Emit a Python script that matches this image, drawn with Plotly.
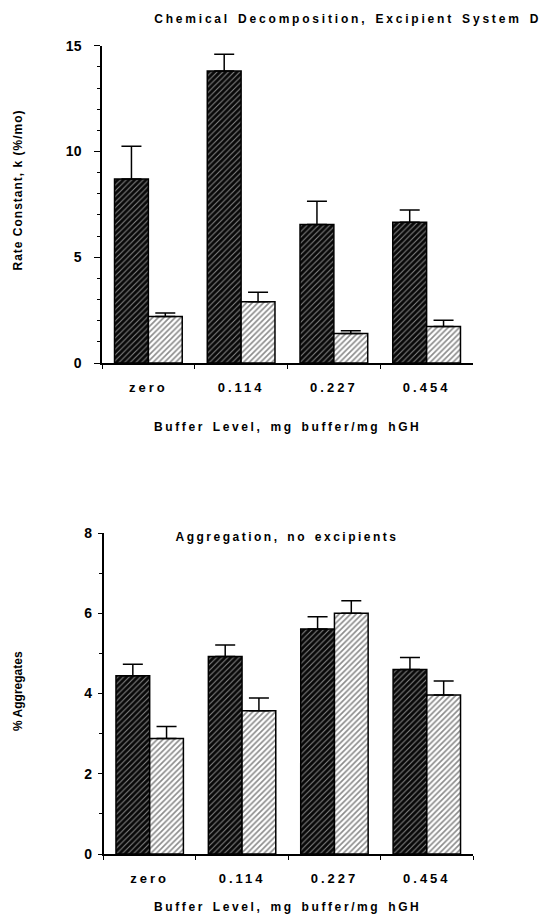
import plotly.graph_objects as go

categories = ["zero", "0.114", "0.227", "0.454"]

# Chemical decomposition rate constant k (%/mo)
rate_dark = [8.7, 13.8, 6.55, 6.65]
rate_dark_err = [1.55, 0.8, 1.1, 0.58]
rate_light = [2.2, 2.9, 1.4, 1.72]
rate_light_err = [0.16, 0.44, 0.12, 0.3]

# Aggregation, % aggregates
agg_dark = [4.44, 4.92, 5.61, 4.6]
agg_dark_err = [0.29, 0.29, 0.3, 0.3]
agg_light = [2.88, 3.57, 6.0, 3.96]
agg_light_err = [0.3, 0.32, 0.31, 0.35]

top_title = "Chemical Decomposition, Excipient System D"
bottom_title = "Aggregation, no excipients"
x_title = "Buffer Level, mg buffer/mg hGH"
top_ytitle = "Rate Constant, k (%/mo)"
bottom_ytitle = "% Aggregates"

FONT = "Liberation Sans, Arial, sans-serif"

W, H = 547, 922


def px(x):
    return x / W


def py(y):
    return 1 - y / H


dark_marker = dict(
    line=dict(color="black", width=1.5),
    pattern=dict(shape="/", bgcolor="#080808", fgcolor="white", size=4, solidity=0.27),
)
light_marker = dict(
    line=dict(color="black", width=1.5),
    pattern=dict(shape="/", bgcolor="white", fgcolor="#1a1a1a", size=4, solidity=0.42),
)


def err(vals):
    return dict(type="data", array=vals, arrayminus=[0] * len(vals), symmetric=False,
                color="black", thickness=1.5, width=10)


fig = go.Figure()
fig.add_trace(go.Bar(x=categories, y=rate_dark, error_y=err(rate_dark_err), marker=dark_marker,
                     offsetgroup="a", xaxis="x", yaxis="y", showlegend=False))
fig.add_trace(go.Bar(x=categories, y=rate_light, error_y=err(rate_light_err), marker=light_marker,
                     offsetgroup="b", xaxis="x", yaxis="y", showlegend=False))
fig.add_trace(go.Bar(x=categories, y=agg_dark, error_y=err(agg_dark_err), marker=dark_marker,
                     offsetgroup="a", xaxis="x2", yaxis="y2", showlegend=False))
fig.add_trace(go.Bar(x=categories, y=agg_light, error_y=err(agg_light_err), marker=light_marker,
                     offsetgroup="b", xaxis="x2", yaxis="y2", showlegend=False))

xcommon = dict(showline=True, linecolor="black", linewidth=1.5, ticks="outside", ticklen=4,
               tickwidth=1.2, tickcolor="black", tickson="boundaries", showgrid=False,
               zeroline=False, tickfont=dict(family=FONT, size=13, color="black", weight="bold"),
               type="category", ticklabelstandoff=12, automargin=False)
ycommon = dict(showline=True, linecolor="black", linewidth=1.5, ticks="outside",
               tickwidth=1.2, tickcolor="black", showgrid=False, zeroline=False,
               tickfont=dict(family=FONT, size=14, color="black", weight="bold"),
               automargin=False)

fig.update_layout(
    width=W, height=H,
    margin=dict(l=0, r=0, t=0, b=0, pad=0, autoexpand=False),
    paper_bgcolor="white", plot_bgcolor="white",
    barmode="group", bargap=0.27, bargroupgap=0,
    xaxis=dict(domain=[px(102), px(473)], anchor="y", **xcommon),
    yaxis=dict(domain=[py(363), py(45.7)], anchor="x", range=[0, 15], dtick=5,
               ticklen=6, ticklabelstandoff=10,
               minor=dict(dtick=1, ticks="outside", ticklen=3, tickcolor="black", tickwidth=1),
               **ycommon),
    xaxis2=dict(domain=[px(103.5), px(473)], anchor="y2", **xcommon),
    yaxis2=dict(domain=[py(854), py(533)], anchor="x2", range=[0, 8], dtick=2,
                ticklen=4, ticklabelstandoff=3,
                minor=dict(dtick=1, ticks="outside", ticklen=3, tickcolor="black", tickwidth=1),
                **ycommon),
)

tfont = dict(family=FONT, size=12, color="black", weight="bold")
annots = [
    dict(text=top_title, x=px(348), y=py(19)),
    dict(text=bottom_title, x=px(287), y=py(537)),
    dict(text=x_title, x=px(287), y=py(427)),
    dict(text=x_title, x=px(287), y=py(907)),
    dict(text=top_ytitle, x=px(18), y=py(190), textangle=-90),
    dict(text=bottom_ytitle, x=px(18), y=py(691), textangle=-90),
]
for a in annots:
    fig.add_annotation(xref="paper", yref="paper", showarrow=False, xanchor="center",
                       yanchor="middle", font=tfont, **a)

post = """
(function(){
  document.body.style.margin='0';
  document.body.style.overflow='hidden';
  var gd=document.getElementById('{plot_id}');
  var spacing=[2.8, 2.5, 2.6, 2.6, 1, 0];
  function sp(){
    gd.querySelectorAll('.xtick text, .x2tick text').forEach(function(t){t.style.letterSpacing='3px';});
    var an=gd.querySelectorAll('.annotation-text');
    an.forEach(function(t,i){
      var s=spacing[i]===undefined?2:spacing[i];
      t.style.letterSpacing=s+'px';
      if(i<4){t.style.wordSpacing='2px';}
    });
  }
  sp();
  if(gd.on){gd.on('plotly_afterplot', sp);}
})();
"""

fig.write_html("out.html", post_script=post, config={"displayModeBar": False})
